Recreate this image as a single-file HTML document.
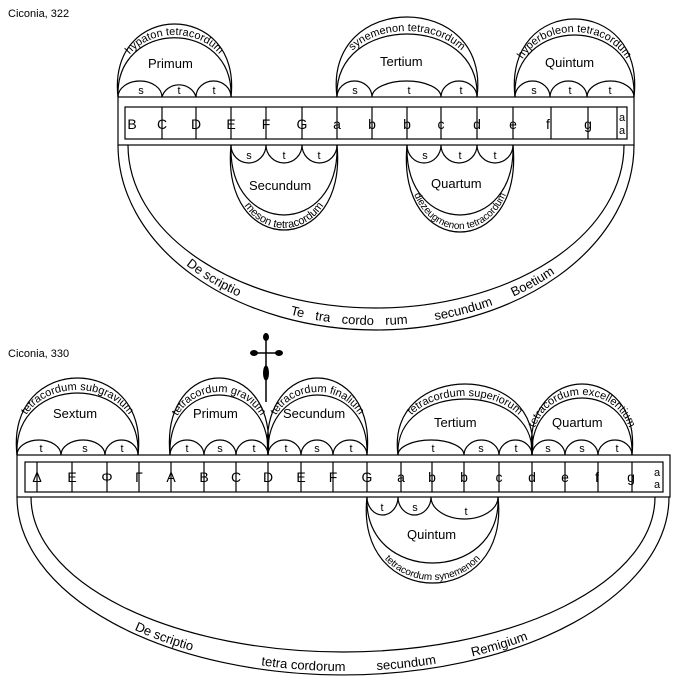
<!DOCTYPE html>
<html><head><meta charset="utf-8"><style>
html,body{margin:0;padding:0;background:#fff}
svg{display:block}
text{font-family:"Liberation Sans",sans-serif;fill:#000}
</style></head><body>
<svg width="691" height="684" viewBox="0 0 691 684" xmlns="http://www.w3.org/2000/svg">
<defs>
<path id="p1" d="M118 97 C110 14.3 239 14.3 231 97"/>
<path id="p2" d="M337 97 C327 9 487 9 477 97"/>
<path id="p3" d="M515 97 C507 10.3 642 10.3 634 97"/>
<path id="p4" d="M231 145 C224 255.7 344 255.7 337 145"/>
<path id="p5" d="M407 145 C400 257 520 257 513 145"/>
<path id="p6" d="M121 145 A255 180 0 0 0 631 145"/>
<path id="q1" d="M17 455 C9 368.3 146 368.3 138 455"/>
<path id="q2" d="M170 455 C163 371 275 371 268 455"/>
<path id="q3" d="M268 455 C261 371 374 371 367 455"/>
<path id="q4" d="M398 455 C389 376.3 541 376.3 532 455"/>
<path id="q5" d="M532 455 C525 375 639 375 632 455"/>
<path id="q6" d="M367 497 C358 607.7 507 607.7 498 497"/>
<path id="q7" d="M20 497 A323 174 0 0 0 666 497"/>
</defs>
<g fill="none" stroke="#000" stroke-width="1.2">
<rect x="118" y="97" width="516" height="48"/>
<rect x="125" y="107" width="502" height="32"/>
<path d="M162 107V139M196 107V139M231 107V139M266 107V139M302 107V139M337 107V139M372 107V139M407 107V139M441 107V139M477 107V139M513 107V139M551 107V139M588 107V139M617 107V139"/>
<path d="M118 97 A22 16 0 0 1 162 97 A17.5 16 0 0 1 196 97 A17.5 16 0 0 1 231 97"/>
<path d="M118 97 C115 18 234 18 231 97"/>
<path d="M118 97 C107 -0.3 242 -0.3 231 97"/>
<path d="M337 97 A17.5 16 0 0 1 372 97 A34.5 16 0 0 1 441 97 A18 16 0 0 1 477 97"/>
<path d="M337 97 C333 13 481 13 477 97"/>
<path d="M337 97 C323 -9.7 491 -9.7 477 97"/>
<path d="M515 97 A17.5 16 0 0 1 550 97 A18.5 16 0 0 1 587 97 A23.5 16 0 0 1 634 97"/>
<path d="M515 97 C511 14.3 638 14.3 634 97"/>
<path d="M515 97 C503 -7 646 -7 634 97"/>
<path d="M231 145 A17.5 18 0 0 0 266 145 A18 18 0 0 0 302 145 A17.5 18 0 0 0 337 145"/>
<path d="M231 145 C228 238.3 340 238.3 337 145"/>
<path d="M231 145 C220 258.3 348 258.3 337 145"/>
<path d="M407 145 A17 18 0 0 0 441 145 A18 18 0 0 0 477 145 A18 18 0 0 0 513 145"/>
<path d="M407 145 C404 238.3 516 238.3 513 145"/>
<path d="M407 145 C396 261 524 261 513 145"/>
<path d="M118 145 A258 185 0 0 0 634 145"/>
<path d="M128 145 A248 163 0 0 0 624 145"/>

<rect x="17" y="455" width="653" height="42"/>
<rect x="25" y="462" width="638" height="30"/>
<path d="M37 462V492M72 462V492M107 462V492M139 462V492M171 462V492M204 462V492M236 462V492M268 462V492M301 462V492M333 462V492M367 462V492M401 462V492M432 462V492M464 462V492M499 462V492M532 462V492M565 462V492M598 462V492M632 462V492"/>
<path d="M17 455 A22 15 0 0 1 61 455 A22 15 0 0 1 105 455 A16.5 15 0 0 1 138 455"/>
<path d="M17 455 C13 372.3 142 372.3 138 455"/>
<path d="M17 455 C5 352.3 150 352.3 138 455"/>
<path d="M170 455 A17 15 0 0 1 204 455 A16 15 0 0 1 236 455 A16 15 0 0 1 268 455"/>
<path d="M170 455 C167 375 271 375 268 455"/>
<path d="M170 455 C160 352.3 278 352.3 268 455"/>
<path d="M268 455 A16.5 15 0 0 1 301 455 A16 15 0 0 1 333 455 A17 15 0 0 1 367 455"/>
<path d="M268 455 C265 375 370 375 367 455"/>
<path d="M268 455 C258 352.3 377 352.3 367 455"/>
<path d="M398 455 A33 15 0 0 1 464 455 A17.5 15 0 0 1 499 455 A16.5 15 0 0 1 532 455"/>
<path d="M398 455 C394 380.3 536 380.3 532 455"/>
<path d="M398 455 C385 360.3 545 360.3 532 455"/>
<path d="M532 455 A16.5 15 0 0 1 565 455 A16.5 15 0 0 1 598 455 A17 15 0 0 1 632 455"/>
<path d="M532 455 C529 379 635 379 632 455"/>
<path d="M532 455 C522 360.3 642 360.3 632 455"/>
<path d="M367 497 A15.5 18 0 0 0 398 497 A16.5 18 0 0 0 431 497 A33.5 22 0 0 0 498 497"/>
<path d="M367 497 C363 585 502 585 498 497"/>
<path d="M367 497 C354 611.7 511 611.7 498 497"/>
<path d="M17 497 A326 178 0 0 0 669 497"/>
<path d="M31 497 A312 155 0 0 0 655 497"/>
</g>
<g stroke="#000" fill="#000">
<line x1="266" y1="334" x2="266" y2="402" stroke-width="1.5"/>
<line x1="251" y1="353" x2="282" y2="353" stroke-width="1.5"/>
<ellipse cx="266" cy="337" rx="2.5" ry="3.5"/>
<ellipse cx="254" cy="353" rx="3.5" ry="2.5"/>
<ellipse cx="279" cy="353" rx="3.5" ry="2.5"/>
<ellipse cx="266" cy="373" rx="2.5" ry="7"/>
</g>

<text x="8" y="17" font-family="Liberation Serif,serif" font-size="11">Ciconia, 322</text>
<text x="8" y="357" font-family="Liberation Serif,serif" font-size="11">Ciconia, 330</text>

<g font-size="13">
<text x="148" y="68">Primum</text>
<text x="380" y="66">Tertium</text>
<text x="545" y="67">Quintum</text>
<text x="249" y="190">Secundum</text>
<text x="431" y="188">Quartum</text>
<text x="53" y="418">Sextum</text>
<text x="193" y="418">Primum</text>
<text x="283" y="418">Secundum</text>
<text x="434" y="427">Tertium</text>
<text x="552" y="427">Quartum</text>
<text x="407" y="539">Quintum</text>
</g>
<g font-size="11" text-anchor="middle">
<text x="141" y="94">s</text><text x="179" y="94">t</text><text x="214" y="94">t</text>
<text x="355" y="94">s</text><text x="409" y="94">t</text><text x="461" y="94">t</text>
<text x="534" y="94">s</text><text x="570" y="94">t</text><text x="610" y="94">t</text>
<text x="249" y="159">s</text><text x="284" y="159">t</text><text x="319" y="159">t</text>
<text x="425" y="159">s</text><text x="460" y="159">t</text><text x="495" y="159">t</text>
<text x="41" y="452">t</text><text x="85" y="452">s</text><text x="122" y="452">t</text>
<text x="187" y="452">t</text><text x="220" y="452">s</text><text x="254" y="452">t</text>
<text x="286" y="452">t</text><text x="317" y="452">s</text><text x="351" y="452">t</text>
<text x="433" y="452">t</text><text x="481" y="452">s</text><text x="516" y="452">t</text>
<text x="548" y="452">s</text><text x="582" y="452">s</text><text x="617" y="452">t</text>
<text x="382" y="511">t</text><text x="415" y="511">s</text><text x="466" y="515">t</text>
</g>
<g font-size="14" text-anchor="middle">
<text x="132" y="129">B</text><text x="162" y="129">C</text><text x="196" y="129">D</text><text x="231" y="129">E</text>
<text x="266" y="129">F</text><text x="302" y="129">G</text><text x="337" y="129">a</text><text x="372" y="129">b</text>
<text x="407" y="129">b</text><text x="441" y="129">c</text><text x="477" y="129">d</text><text x="513" y="129">e</text>
<text x="548" y="129">f</text><text x="588" y="129">g</text>
</g>
<g font-size="11" text-anchor="middle">
<text x="622" y="121">a</text><text x="622" y="134">a</text>
<text x="657" y="476">a</text><text x="657" y="488">a</text>
</g>
<g font-size="14" text-anchor="middle">
<text x="37" y="482">Δ</text><text x="72" y="482">E</text><text x="107" y="482">Φ</text><text x="139" y="482">Γ</text>
<text x="171" y="482">A</text><text x="204" y="482">B</text><text x="236" y="482">C</text><text x="268" y="482">D</text>
<text x="301" y="482">E</text><text x="333" y="482">F</text><text x="367" y="482">G</text><text x="401" y="482">a</text>
<text x="432" y="482">b</text><text x="464" y="482">b</text><text x="499" y="482">c</text><text x="532" y="482">d</text>
<text x="565" y="482">e</text><text x="597" y="482">f</text><text x="631" y="482">g</text>
</g>

<g font-size="11" text-anchor="middle">
<text><textPath href="#p1" startOffset="50%">hypaton  tetracordum</textPath></text>
<text><textPath href="#p2" startOffset="50%">synemenon tetracordum</textPath></text>
<text><textPath href="#p3" startOffset="50%">hyperboleon tetracordum</textPath></text>
<text><textPath href="#p4" startOffset="50%">meson tetracordum</textPath></text>
<text font-size="10"><textPath href="#p5" startOffset="50%">diezeugmenon tetracordum</textPath></text>
<text font-size="13"><textPath href="#p6" startOffset="25%">De  scriptio</textPath></text>
<text font-size="13" word-spacing="8"><textPath href="#p6" startOffset="46%">Te tra cordo rum</textPath></text>
<text font-size="13"><textPath href="#p6" startOffset="63%">secundum</textPath></text>
<text font-size="13"><textPath href="#p6" startOffset="74%">Boetium</textPath></text>
<text><textPath href="#q1" startOffset="50%">tetracordum subgravium</textPath></text>
<text><textPath href="#q2" startOffset="50%">tetracordum gravium</textPath></text>
<text><textPath href="#q3" startOffset="50%">tetracordum finalium</textPath></text>
<text><textPath href="#q4" startOffset="50%">tetracordum superiorum</textPath></text>
<text><textPath href="#q5" startOffset="50%">tetracordum excellentium</textPath></text>
<text font-size="10"><textPath href="#q6" startOffset="50%">tetracordum synemenon</textPath></text>
<text font-size="13"><textPath href="#q7" startOffset="27%">De  scriptio</textPath></text>
<text font-size="13"><textPath href="#q7" startOffset="45%">tetra  cordorum</textPath></text>
<text font-size="13"><textPath href="#q7" startOffset="58%">secundum</textPath></text>
<text font-size="13"><textPath href="#q7" startOffset="70%">Remigium</textPath></text>
</g>
</svg>
</body></html>
